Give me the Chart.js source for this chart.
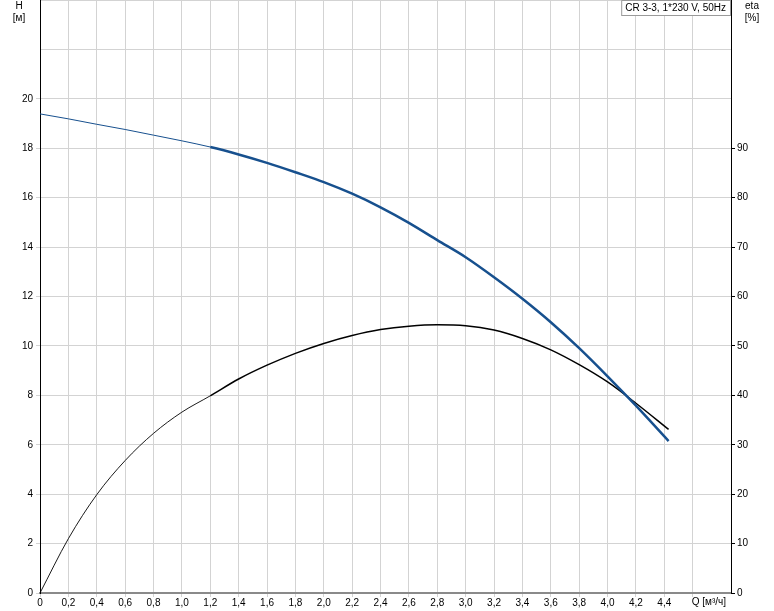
<!DOCTYPE html>
<html>
<head>
<meta charset="utf-8">
<script src="https://cdn.jsdelivr.net/npm/chart.js@4.4.1/dist/chart.umd.min.js"></script>
<style>
html, body { margin: 0; padding: 0; background: #fff; }
#wrap { position: relative; width: 774px; height: 611px; }
</style>
</head>
<body>
<div id="wrap"><canvas id="chart" width="774" height="611"></canvas></div>
<script>
// flow Q [m3/h], head H [m], efficiency eta [%]
var flow  = [0, 0.2, 0.4, 0.6, 0.8, 1.0, 1.2, 1.4, 1.6, 1.8, 2.0, 2.2, 2.4, 2.6, 2.8, 3.0, 3.2, 3.4, 3.6, 3.8, 4.0, 4.2, 4.43];
var head  = [19.39, 19.19, 18.97, 18.76, 18.53, 18.30, 18.05, 17.75, 17.41, 17.03, 16.63, 16.16, 15.61, 14.98, 14.28, 13.59, 12.78, 11.91, 10.96, 9.91, 8.77, 7.58, 6.15];
var effic = [0, 11.0, 19.9, 26.8, 32.3, 36.6, 39.9, 43.3, 46.1, 48.5, 50.5, 52.1, 53.3, 54.0, 54.3, 54.1, 53.2, 51.5, 49.2, 46.2, 42.7, 38.4, 33.1];
var splitQ = 1.2; // curve drawn thin below this flow

var legendText = 'CR 3-3, 1*230 V, 50Hz';
var xTitle = 'Q [м³/ч]';
var hTitle = ['H', '[м]'];
var etaTitle = ['eta', '[%]'];

var blue = '#17508e';
var gridCol = '#d3d3d3';
var fontFam = '"Liberation Sans", Arial, sans-serif';

function pts(ys) {
    var out = [];
    for (var i = 0; i < flow.length; i++) {
        out.push({ x: flow[i], y: ys[i] });
    }
    return out;
}

function widthBySplit(thin, thick) {
    return function (ctx) {
        return ctx.p0.parsed.x < splitQ - 1e-9 ? thin : thick;
    };
}

var textPlugin = {
    id: 'texts',
    afterDraw: function (chart) {
        var ctx = chart.ctx;
        var area = chart.chartArea;
        ctx.save();
        ctx.font = '10px ' + fontFam;
        ctx.fillStyle = '#000';
        ctx.textAlign = 'center';
        ctx.textBaseline = 'middle';
        ctx.fillText(hTitle[0], 19, 6);
        ctx.fillText(hTitle[1], 19, 18);
        ctx.fillText(etaTitle[0], 752, 6);
        ctx.fillText(etaTitle[1], 752, 18);

        // x axis title in place of the 4,6 label
        var x46 = chart.scales.x.getPixelForValue(4.6);
        ctx.textAlign = 'left';
        ctx.fillText(xTitle, x46 - 1, 602);

        // legend box
        var w = ctx.measureText(legendText).width;
        var bx = area.right - w - 9;
        ctx.fillStyle = '#fff';
        ctx.fillRect(bx, area.top, w + 8, 15);
        ctx.strokeStyle = '#9a9a9a';
        ctx.lineWidth = 1;
        ctx.strokeRect(bx + 0.5, area.top + 0.5, w + 8, 15);
        ctx.fillStyle = '#000';
        ctx.fillText(legendText, bx + 4, area.top + 8);
        ctx.restore();
    }
};

var fmtQ = function (v) {
    if (v > 4.5) return '';
    if (Math.abs(v) < 1e-9) return '0';
    return v.toFixed(1).replace('.', ',');
};

new Chart(document.getElementById('chart'), {
    type: 'line',
    data: {
        datasets: [
            { data: pts(head), borderColor: blue, borderWidth: 2.5, yAxisID: 'y', cubicInterpolationMode: 'monotone', pointRadius: 0,
              segment: { borderWidth: widthBySplit(1, 2.5) } },
            { data: pts(effic), borderColor: '#000', borderWidth: 1.5, yAxisID: 'y2', cubicInterpolationMode: 'monotone', pointRadius: 0,
              segment: { borderWidth: widthBySplit(0.9, 1.5) } }
        ]
    },
    options: {
        responsive: false,
        animation: false,
        devicePixelRatio: 1,
        layout: { padding: 0 },
        plugins: { legend: { display: false }, tooltip: { enabled: false } },
        scales: {
            x: {
                type: 'linear', position: 'bottom', min: 0, max: 4.87,
                ticks: { stepSize: 0.2, callback: fmtQ, maxRotation: 0, autoSkip: false, padding: 0, color: '#000', font: { size: 10, family: fontFam } },
                afterBuildTicks: function (s) { s.ticks = s.ticks.filter(function (t) { return t.value <= 4.81; }); },
                grid: { color: gridCol, lineWidth: 1, tickLength: 4, tickColor: gridCol },
                border: { color: '#8a8a8a', width: 2 },
                afterFit: function (s) { s.height = 18; s.paddingLeft = 0; s.paddingRight = 0; }
            },
            y: {
                position: 'left', min: 0, max: 24,
                ticks: { stepSize: 2, padding: 3, color: '#000', font: { size: 10, family: fontFam },
                    callback: function (v) { return v <= 20 ? String(v) : ''; } },
                grid: { color: gridCol, lineWidth: 1, tickLength: 4,
                    tickColor: function (c) { return c.tick && c.tick.value > 20 ? 'rgba(0,0,0,0)' : gridCol; } },
                border: { color: '#000', width: 1 },
                afterFit: function (s) { s.width = 40; s.paddingTop = 0; s.paddingBottom = 0; }
            },
            y2: {
                position: 'right', min: 0, max: 120,
                ticks: { stepSize: 10, padding: 2, color: '#000', font: { size: 10, family: fontFam } },
                afterBuildTicks: function (s) { s.ticks = s.ticks.filter(function (t) { return t.value <= 90; }); },
                grid: { drawOnChartArea: false, tickLength: 4, tickColor: '#000' },
                border: { color: '#000', width: 1 },
                afterFit: function (s) { s.width = 43; s.paddingTop = 0; s.paddingBottom = 0; }
            }
        }
    },
    plugins: [textPlugin]
});
</script>
</body>
</html>
